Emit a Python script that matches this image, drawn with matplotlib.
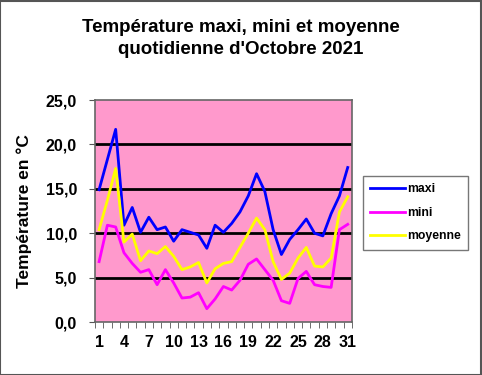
import matplotlib.pyplot as plt
import numpy as np
from matplotlib.ticker import FixedLocator, FuncFormatter
from matplotlib.patches import Rectangle

plt.rcParams['font.family'] = ['Liberation Sans', 'DejaVu Sans']

days = list(range(1, 32))
maxi = [14.9, 18.3, 21.7, 10.9, 12.9, 10.1, 11.8, 10.4, 10.7, 9.1,
        10.4, 10.1, 9.8, 8.3, 10.9, 10.1, 11.1, 12.4, 14.2, 16.7,
        14.7, 10.4, 7.6, 9.3, 10.4, 11.6, 10.0, 9.7, 12.2, 14.2, 17.4]
mini = [6.8, 10.9, 10.7, 7.8, 6.6, 5.6, 5.9, 4.2, 5.9, 4.4,
        2.7, 2.8, 3.3, 1.5, 2.6, 4.0, 3.6, 4.7, 6.5, 7.1,
        5.9, 4.7, 2.4, 2.1, 4.9, 5.7, 4.2, 4.0, 3.9, 10.4, 11.0]
moyenne = [10.4, 13.7, 17.3, 9.0, 9.9, 6.9, 8.0, 7.7, 8.5, 7.4,
           5.9, 6.2, 6.7, 4.4, 6.0, 6.6, 6.8, 8.4, 10.0, 11.7,
           10.4, 6.8, 4.8, 5.5, 7.2, 8.4, 6.3, 6.2, 7.2, 12.4, 14.1]
y_ticks = [0, 5, 10, 15, 20, 25]
x_labels = [1, 4, 7, 10, 13, 16, 19, 22, 25, 28, 31]

fig = plt.figure(figsize=(4.82, 3.75), dpi=100)
fig.patches.append(Rectangle((0.001, 0.001), 0.997, 0.996, transform=fig.transFigure,
                             fill=False, edgecolor='#555555', linewidth=1.5))

ax = fig.add_axes([0.197, 0.1413, 0.533, 0.592])
ax.set_facecolor('#FF99CC')
for y in y_ticks[1:-1]:
    ax.axhline(y, color='black', linewidth=2, zorder=1)

lw = 2.0
ax.plot(days, maxi, color='#0000FF', linewidth=lw, label='maxi', zorder=3)
ax.plot(days, mini, color='#FF00FF', linewidth=lw, label='mini', zorder=3)
ax.plot(days, moyenne, color='#FFFF00', linewidth=lw, label='moyenne', zorder=3)

ax.set_xlim(0.5, 31.5)
ax.set_ylim(0, 25)
ax.yaxis.set_major_locator(FixedLocator(y_ticks))
ax.yaxis.set_major_formatter(FuncFormatter(lambda v, p: f"{v:.1f}".replace('.', ',')))
ax.xaxis.set_major_locator(FixedLocator(x_labels))
ax.xaxis.set_minor_locator(FixedLocator(np.arange(0.5, 32, 1)))
ax.tick_params(axis='x', which='major', length=0, pad=9)
ax.tick_params(axis='x', which='minor', length=4, direction='out', color='#555555')
ax.tick_params(axis='y', length=4, direction='out', color='#555555', pad=9)
for lab in ax.get_xticklabels() + ax.get_yticklabels():
    lab.set_fontsize(11.5)
    lab.set_fontweight('bold')
for s in ax.spines.values():
    s.set_color('#666666')
    s.set_linewidth(1.2)

ax.set_ylabel('Température en °C', fontsize=12.5, fontweight='bold')
ax.yaxis.set_label_coords(-0.245, 0.5)

fig.text(0.5, 0.897, "Température maxi, mini et moyenne\nquotidienne d'Octobre 2021",
         ha='center', va='center', fontsize=13.5, fontweight='bold', linespacing=1.4)

leg = fig.legend(loc='upper left', bbox_to_anchor=(0.753, 0.531), frameon=True,
                 fancybox=False, edgecolor='#555555', fontsize=8.8,
                 handlelength=2.8, handletextpad=0.2, labelspacing=0.95,
                 borderpad=0.6, borderaxespad=0)
leg.get_frame().set_linewidth(1.0)
for t in leg.get_texts():
    t.set_fontweight('bold')

fig.savefig('out.png', dpi=100)
